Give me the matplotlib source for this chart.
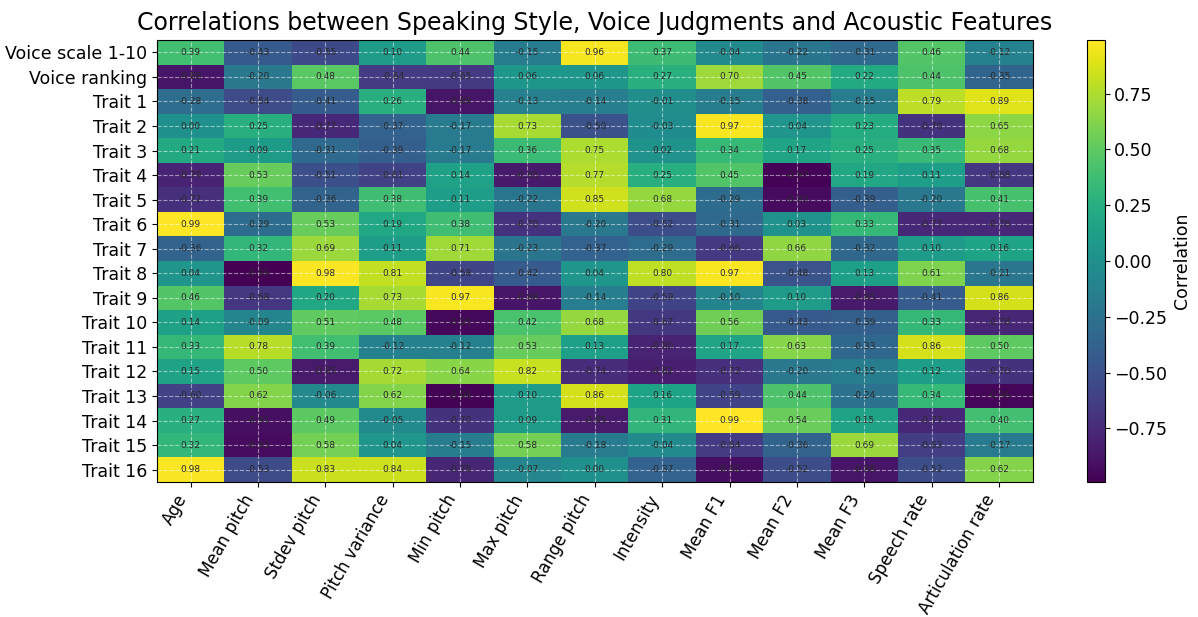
import matplotlib.pyplot as plt
import numpy as np

# labels ---------------------------------------

rows = ['Voice scale 1-10', 'Voice ranking'] + [f'Trait {i}' for i in range(1, 17)]
cols = ['Age', 'Mean pitch', 'Stdev pitch', 'Pitch variance', 'Min pitch',
        'Max pitch', 'Range pitch', 'Intensity', 'Mean F1', 'Mean F2',
        'Mean F3', 'Speech rate', 'Articulation rate']

# correlations, one list per row ----------------

voice_scale   = [0.39, -0.43, -0.55, 0.10, 0.44, -0.15, 0.96, 0.37, -0.04, -0.22, -0.31, 0.46, -0.12]
voice_ranking = [-0.88, -0.20, 0.48, -0.64, -0.65, 0.06, 0.06, 0.27, 0.70, 0.45, 0.22, 0.44, -0.35]
trait_1  = [-0.28, -0.54, -0.41, 0.26, -0.88, -0.13, -0.14, -0.01, -0.15, -0.38, -0.15, 0.79, 0.89]
trait_2  = [0.00, 0.25, -0.77, -0.37, -0.17, 0.73, -0.50, -0.03, 0.97, 0.04, 0.23, -0.70, 0.65]
trait_3  = [0.21, 0.09, -0.31, -0.39, -0.17, 0.36, 0.75, 0.02, 0.34, 0.17, 0.25, 0.35, 0.68]
trait_4  = [-0.79, 0.53, -0.51, -0.61, 0.14, -0.85, 0.77, 0.25, 0.45, -0.97, 0.19, 0.11, -0.68]
trait_5  = [-0.72, 0.39, -0.36, 0.38, 0.11, -0.22, 0.85, 0.68, -0.29, -0.93, -0.39, -0.20, 0.41]
trait_6  = [0.99, -0.29, 0.53, 0.19, 0.38, -0.70, -0.20, -0.52, -0.31, 0.03, 0.33, -0.77, -0.76]
trait_7  = [-0.36, 0.32, 0.69, 0.11, 0.71, -0.23, -0.37, -0.29, -0.66, 0.66, -0.32, 0.10, 0.16]
trait_8  = [0.04, -0.99, 0.98, 0.81, -0.58, -0.42, 0.04, 0.80, 0.97, -0.48, 0.13, 0.61, -0.21]
trait_9  = [0.46, -0.68, 0.20, 0.73, 0.97, -0.88, -0.14, -0.59, -0.10, 0.10, -0.85, -0.41, 0.86]
trait_10 = [0.14, -0.09, 0.51, 0.48, -0.95, 0.42, 0.68, -0.67, 0.56, -0.43, -0.39, 0.33, -0.78]
trait_11 = [0.33, 0.78, 0.39, -0.12, -0.12, 0.53, 0.13, -0.80, 0.17, 0.63, -0.33, 0.86, 0.50]
trait_12 = [0.15, 0.50, -0.85, 0.72, 0.64, 0.82, -0.74, -0.82, -0.72, -0.20, -0.15, 0.12, -0.70]
trait_13 = [-0.60, 0.62, -0.06, 0.62, -0.98, 0.10, 0.86, 0.16, -0.59, 0.44, -0.24, 0.34, -0.96]
trait_14 = [0.27, -0.91, 0.49, -0.05, -0.70, 0.09, -0.85, 0.31, 0.99, 0.54, 0.15, -0.77, 0.40]
trait_15 = [0.32, -0.93, 0.58, 0.04, -0.15, 0.58, -0.18, -0.04, -0.64, -0.36, 0.69, -0.63, -0.17]
trait_16 = [0.98, -0.53, 0.83, 0.84, -0.78, -0.07, 0.00, -0.37, -0.92, -0.52, -0.88, -0.52, 0.62]

data = np.array([voice_scale, voice_ranking, trait_1, trait_2, trait_3, trait_4,
                 trait_5, trait_6, trait_7, trait_8, trait_9, trait_10, trait_11,
                 trait_12, trait_13, trait_14, trait_15, trait_16])

# -----------------------------------------------

fig = plt.figure(figsize=(11.98, 6.17), dpi=100)
ax  = fig.add_axes([0.131, 0.219, 0.731, 0.716])
cax = fig.add_axes([0.907, 0.219, 0.015, 0.716])

im = ax.imshow(data, cmap='viridis', aspect='auto')

for i in range(data.shape[0]):
    for j in range(data.shape[1]):
        ax.text(j, i, f'{data[i, j]:.2f}', ha='center', va='center',
                fontsize=6.5, color='#2a2a2a')

ax.set_xticks(range(len(cols)))
ax.set_xticklabels(cols, rotation=60, ha='right', fontsize=12)
ax.set_yticks(range(len(rows)))
ax.set_yticklabels(rows, fontsize=12.5)
ax.grid(True, color='white', linestyle='--', linewidth=0.8, alpha=0.5)
ax.set_title('Correlations between Speaking Style, Voice Judgments and Acoustic Features',
             fontsize=17, pad=7)

cb = fig.colorbar(im, cax=cax)
cb.set_ticks([-0.75, -0.5, -0.25, 0.0, 0.25, 0.5, 0.75])
cb.ax.tick_params(labelsize=12.5)
cb.set_label('Correlation', fontsize=12.5)

fig.savefig('out.png', dpi=100)
